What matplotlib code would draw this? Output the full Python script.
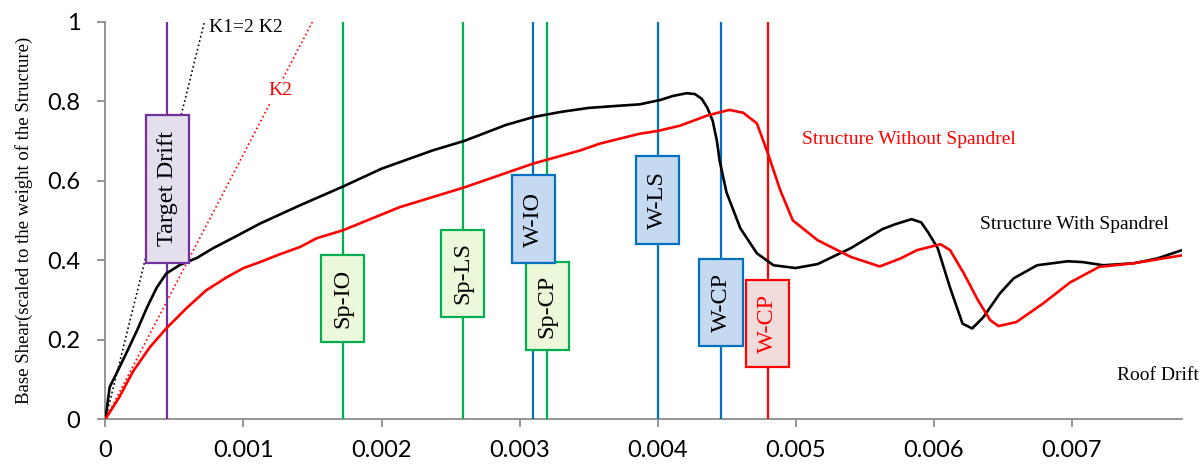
from matplotlib import pyplot as plt
from matplotlib.patches import Rectangle
import numpy as np

# pushover curves (roof drift in units of 1e-3)
drift_with = [0, 0.03, 0.08, 0.15, 0.23, 0.30, 0.37, 0.44, 0.54, 0.66, 0.78, 0.93,
              1.12, 1.41, 1.72, 2.0, 2.37, 2.6, 2.9, 3.1, 3.3, 3.5, 3.7, 3.87,
              4.02, 4.11, 4.21, 4.27, 4.32, 4.36, 4.40, 4.43, 4.45, 4.50, 4.60,
              4.72, 4.84, 5.0, 5.16, 5.4, 5.63, 5.72, 5.84, 5.91, 5.96, 6.03,
              6.12, 6.21, 6.28, 6.36, 6.48, 6.58, 6.75, 6.97, 7.08, 7.23, 7.45,
              7.62, 7.8]
shear_with = [0, 0.08, 0.115, 0.165, 0.224, 0.28, 0.33, 0.366, 0.388, 0.405, 0.43,
              0.457, 0.492, 0.538, 0.585, 0.63, 0.676, 0.70, 0.74, 0.76, 0.773,
              0.783, 0.788, 0.792, 0.803, 0.813, 0.82, 0.818, 0.806, 0.784, 0.75,
              0.70, 0.65, 0.57, 0.48, 0.417, 0.387, 0.38, 0.39, 0.43, 0.478, 0.49,
              0.503, 0.495, 0.47, 0.43, 0.33, 0.24, 0.228, 0.256, 0.316, 0.354,
              0.387, 0.397, 0.395, 0.387, 0.392, 0.404, 0.425]

drift_without = [0, 0.1, 0.2, 0.32, 0.44, 0.59, 0.73, 0.88, 1.0, 1.12, 1.25, 1.41,
                 1.53, 1.72, 2.13, 2.6, 3.1, 3.44, 3.58, 3.87, 4.0, 4.16, 4.3,
                 4.36, 4.52, 4.62, 4.72, 4.8, 4.89, 4.98, 5.16, 5.4, 5.61, 5.76,
                 5.88, 6.05, 6.12, 6.22, 6.32, 6.41, 6.47, 6.6, 6.79, 6.99, 7.2,
                 7.45, 7.8]
shear_without = [0, 0.055, 0.12, 0.18, 0.228, 0.28, 0.324, 0.357, 0.38, 0.395,
                 0.413, 0.433, 0.455, 0.475, 0.533, 0.583, 0.643, 0.676, 0.693,
                 0.718, 0.725, 0.738, 0.756, 0.764, 0.778, 0.771, 0.744, 0.668,
                 0.575, 0.5, 0.45, 0.408, 0.384, 0.404, 0.425, 0.44, 0.425, 0.366,
                 0.3, 0.249, 0.234, 0.244, 0.29, 0.344, 0.383, 0.392, 0.412]

# initial stiffness lines
k1_drift = [0, 0.717]
k2_drift = [0, 1.5]
k_shear = [0, 1.0]

# performance levels
limit_names = ['Target Drift', 'Sp-IO', 'Sp-LS', 'Sp-CP', 'W-IO', 'W-LS', 'W-CP', 'W-CP']
limit_drift = [0.446, 1.72, 2.59, 3.20, 3.10, 4.00, 4.46, 4.80]

scale = 1e-3
drift_with = np.array(drift_with) * scale
drift_without = np.array(drift_without) * scale

purple, green, blue, red = '#7030A0', '#00B050', '#0070C0', '#FF0000'
styles = [(purple, '#E4DFEC', 'black'), (green, '#EBF9DA', 'black'),
          (green, '#EBF9DA', 'black'), (green, '#EBF9DA', 'black'),
          (blue, '#C5D9F1', 'black'), (blue, '#C5D9F1', 'black'),
          (blue, '#C5D9F1', 'black'), (red, '#F2DCDB', red)]
box_bottom = [0.392, 0.193, 0.256, 0.173, 0.392, 0.44, 0.183, 0.13]
box_height = [0.374, 0.221, 0.221, 0.221, 0.221, 0.221, 0.221, 0.221]

serif = 'Liberation Serif'
fig = plt.figure(figsize=(12, 4.65), dpi=100)
ax = fig.add_axes([0.0879, 0.0989, 0.8971, 0.8544])
ax.set_xlim(0, 0.0078)
ax.set_ylim(0, 1)

ax.plot(np.array(k1_drift) * scale, k_shear, ':', color='black', lw=1.2, zorder=2)
ax.plot(np.array(k2_drift) * scale, k_shear, ':', color=red, lw=1.2, zorder=2)

for n, x in enumerate(limit_drift):
    edge, fill, tc = styles[n]
    ax.plot([x * scale, x * scale], [0, 1], color=edge, lw=1.6, zorder=3)

ax.plot(drift_with, shear_with, color='black', lw=1.9, zorder=4)
ax.plot(drift_without, shear_without, color=red, lw=1.9, zorder=4)

hw = 0.000156
for n, x in enumerate(limit_drift):
    edge, fill, tc = styles[n]
    ax.add_patch(Rectangle((x * scale - hw, box_bottom[n]), 2 * hw, box_height[n],
                           facecolor=fill, edgecolor=edge, lw=1.6, zorder=5))
    ax.text(x * scale, box_bottom[n] + box_height[n] / 2, limit_names[n],
            rotation=90, ha='center', va='center', fontsize=17.5, family=serif,
            color=tc, zorder=6)

ax.text(0.00075, 0.985, 'K1=2 K2', fontsize=14, family=serif, va='center',
        ha='left', zorder=6)
ax.text(0.001264, 0.827, 'K2', fontsize=14, family=serif, color=red, va='center',
        ha='center', zorder=6, bbox=dict(facecolor='white', edgecolor='none', pad=2))
ax.text(0.00505, 0.703, 'Structure Without Spandrel', fontsize=14, family=serif,
        color=red, va='center', ha='left')
ax.text(0.00634, 0.49, 'Structure With Spandrel', fontsize=14, family=serif,
        va='center', ha='left')
ax.text(0.00733, 0.11, 'Roof Drift', fontsize=14, family=serif, va='center',
        ha='left', clip_on=False)

ax.set_ylabel('Base Shear(scaled to the weight of the Structure)', family=serif,
              fontsize=13.5, labelpad=10)

ax.set_xticks(np.arange(0, 0.0075, 0.001))
ax.set_xticklabels(['0', '0.001', '0.002', '0.003', '0.004', '0.005', '0.006', '0.007'])
ax.set_yticks([0, 0.2, 0.4, 0.6, 0.8, 1])
ax.set_yticklabels(['0', '0.2', '0.4', '0.6', '0.8', '1'])
for lab in ax.get_xticklabels() + ax.get_yticklabels():
    lab.set_family('Lato')
    lab.set_fontsize(17)

for s in ['top', 'right']:
    ax.spines[s].set_visible(False)
for s in ['left', 'bottom']:
    ax.spines[s].set_color('#8C8C8C')
    ax.spines[s].set_linewidth(1.3)
ax.tick_params(axis='both', color='#8C8C8C', width=1.3, length=6)
ax.tick_params(axis='x', pad=9)
ax.tick_params(axis='y', pad=12)

fig.savefig('out.png', dpi=100)
